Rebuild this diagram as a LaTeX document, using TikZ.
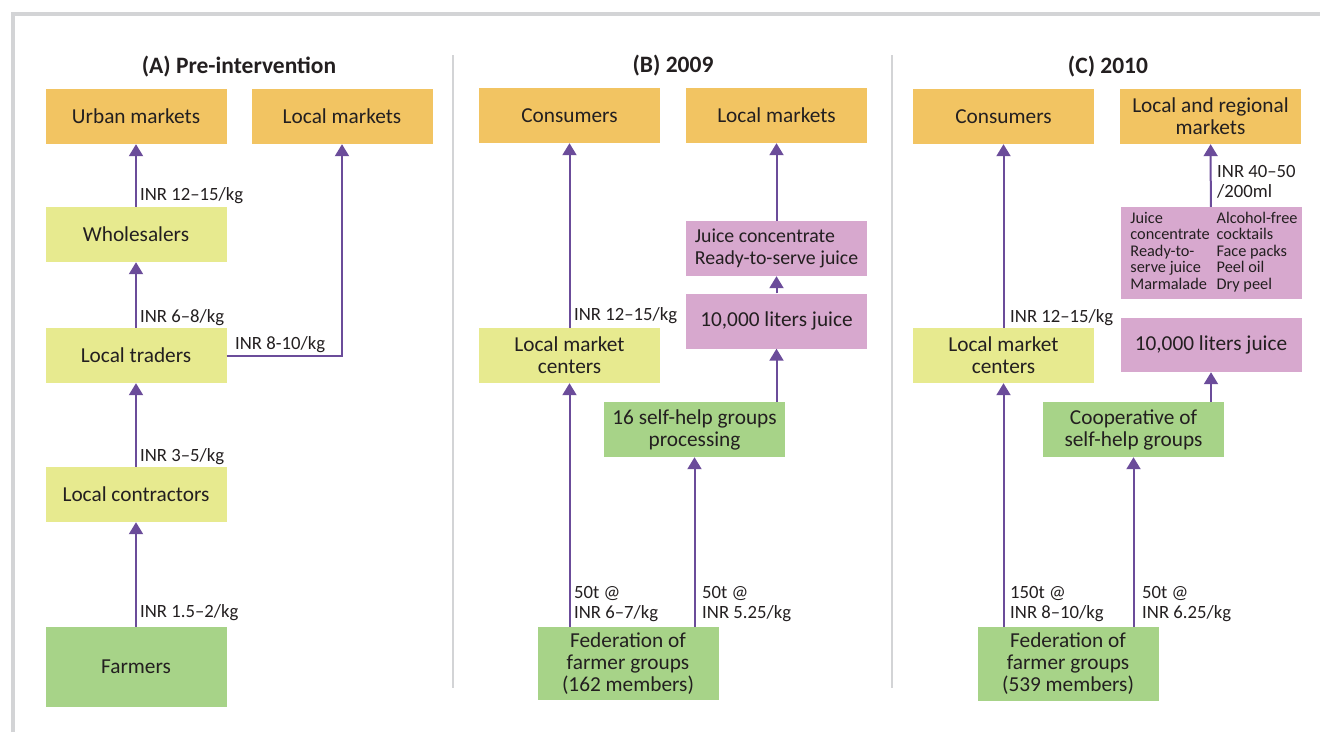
\documentclass[tikz,border=0pt]{standalone}
\usepackage{fontspec}
\setmainfont{Carlito}
\usetikzlibrary{arrows.meta,positioning}

\definecolor{mktorange}{HTML}{F2C462}
\definecolor{tradeyellow}{HTML}{E7EA8F}
\definecolor{groupgreen}{HTML}{A7D388}
\definecolor{prodpink}{HTML}{D7A8CE}
\definecolor{flowpurple}{HTML}{6B4C9A}
\definecolor{framegrey}{HTML}{D3D4D6}
\definecolor{textgrey}{HTML}{231F20}

\begin{document}
\begin{tikzpicture}[x=1pt,y=-1pt,
  box/.style={minimum width=181pt,minimum height=55pt,inner sep=0pt,align=center,
    font=\fontsize{21.3}{22}\selectfont,text=textgrey},
  market/.style={box,fill=mktorange},
  trader/.style={box,fill=tradeyellow},
  group/.style={box,fill=groupgreen},
  product/.style={box,fill=prodpink},
  flow/.style={draw=flowpurple,line width=2pt,-{Triangle[length=12pt,width=14pt]}},
  price/.style={anchor=west,inner sep=0pt,align=left,
    font=\fontsize{18.7}{20}\selectfont,text=textgrey},
  title/.style={font=\fontsize{23.5}{26}\bfseries\selectfont,text=textgrey}
]
\useasboundingbox (0,0) rectangle (1320,732);

% frame and panel dividers
\draw[framegrey,line width=4pt] (12.5,732) -- (12.5,13.5) -- (1320,13.5);
\draw[framegrey,line width=1.5pt] (453,55) -- (453,688);
\draw[framegrey,line width=1.5pt] (892,55) -- (892,688);

% (A) Pre-intervention
\node[title] (titleA) at (239,67) {(A) Pre-intervention};
\node[market] (urbanA) at (136,116.5) {Urban markets};
\node[market] (localA) at (342,116.5) {Local markets};
\node[trader] (wholesaleA) at (136,234.5) {Wholesalers};
\node[trader] (tradersA) at (136,355.5) {Local traders};
\node[trader] (contractA) at (136,494.5) {Local contractors};
\node[group,minimum height=80pt] (farmersA) at (136,667) {Farmers};

\draw[flow] (farmersA) -- (contractA);
\draw[flow] (contractA) -- (tradersA);
\draw[flow] (tradersA) -- (wholesaleA);
\draw[flow] (wholesaleA) -- (urbanA);
\draw[flow] (tradersA.east) -| (localA.south);

\node[price] (pA1) at (140,196) {INR 12--15/kg};
\node[price] (pA2) at (140,318) {INR 6--8/kg};
\node[price] (pA3) at (140,457) {INR 3--5/kg};
\node[price] (pA4) at (140,613) {INR 1.5--2/kg};
\node[price] (pA5) at (235,345) {INR 8-10/kg};

% (B) 2009
\node[title] (titleB) at (673,66) {(B) 2009};
\node[market] (consB) at (569.5,115.5) {Consumers};
\node[market] (localB) at (776.5,115.5) {Local markets};
\node[product,align=left,font=\fontsize{19.8}{22}\selectfont] (juiceB) at (776.5,248.5) {Juice concentrate\\Ready-to-serve juice};
\node[product] (litersB) at (776.5,321) {10,000 liters juice};
\node[trader] (centreB) at (569.5,355.5) {Local market\\centers};
\node[group] (shgB) at (694.5,429.5) {16 self-help groups\\processing};
\node[group,minimum height=73pt] (fedB) at (628,663.5) {Federation of\\farmer groups\\(162 members)};

\draw[flow] (fedB.north -| centreB) -- (centreB);
\draw[flow] (centreB) -- (consB);
\draw[flow] (fedB.north -| shgB) -- (shgB);
\draw[flow] (shgB.north -| litersB) -- (litersB);
\draw[flow] (litersB) -- (juiceB);
\draw[flow] (juiceB) -- (localB);

\node[price] (pB1) at (574,316) {INR 12--15/kg};
\node[price] (pB2) at (574,604) {50t @\\INR 6--7/kg};
\node[price] (pB3) at (702,604) {50t @\\INR 5.25/kg};

% (C) 2010
\node[title] (titleC) at (1108,67) {(C) 2010};
\node[market] (consC) at (1003.5,116.5) {Consumers};
\node[market] (localC) at (1210.5,116.5) {Local and regional\\markets};
\node[product,minimum height=92pt,font=\fontsize{16.3}{16.5}\selectfont] (prodC) at (1211,253)
  {\begin{tabular}{@{\hspace{6pt}}l@{\hspace{7pt}}l@{}}
   Juice & Alcohol-free\\
   concentrate & cocktails\\
   Ready-to- & Face packs\\
   serve juice & Peel oil\\
   Marmalade & Dry peel
   \end{tabular}};
\node[product,minimum height=54pt] (litersC) at (1211,345) {10,000 liters juice};
\node[trader] (centreC) at (1003.5,355.5) {Local market\\centers};
\node[group] (coopC) at (1133.5,429.5) {Cooperative of\\self-help groups};
\node[group,minimum height=74pt] (fedC) at (1068,664) {Federation of\\farmer groups\\(539 members)};

\draw[flow] (fedC.north -| centreC) -- (centreC);
\draw[flow] (centreC) -- (consC);
\draw[flow] (fedC.north -| coopC) -- (coopC);
\draw[flow] (coopC.north -| litersC) -- (litersC);
\draw[flow] (prodC) -- (localC);

\node[price] (pC1) at (1010,318) {INR 12--15/kg};
\node[price] (pC2) at (1010,604) {150t @\\INR 8--10/kg};
\node[price] (pC3) at (1142,604) {50t @\\INR 6.25/kg};
\node[price] (pC4) at (1217,182) {INR 40--50\\/200ml};
\end{tikzpicture}
\end{document}
